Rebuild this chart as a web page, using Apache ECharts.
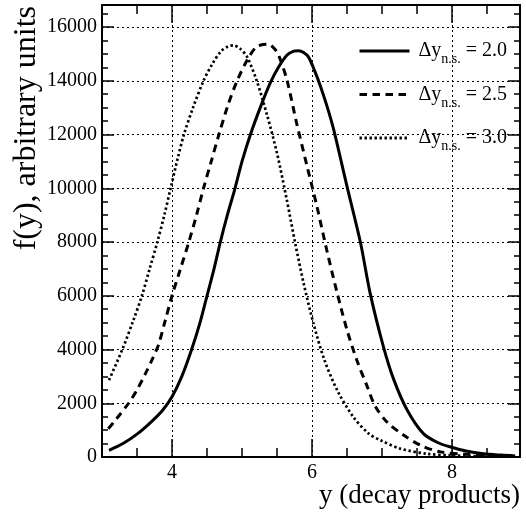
<!DOCTYPE html>
<html><head><meta charset="utf-8">
<script src="https://cdn.jsdelivr.net/npm/echarts@6/dist/echarts.min.js"></script>
<style>html,body{margin:0;padding:0;background:#fff}#c{width:526px;height:517px}</style>
</head><body><div id="c"></div>
<script>
// ---- data ----
const seriesNames = ['2.0', '2.5', '3.0'];
const x20 = [3.1,3.3,3.5,3.7,3.86,4.0,4.14,4.28,4.4,4.5,4.6,4.69,4.79,4.9,5.0,5.12,5.26,5.4,5.52,5.64,5.74,5.81,5.88,5.95,6.04,6.12,6.22,6.31,6.5,6.69,6.83,7.02,7.17,7.36,7.59,7.8,7.98,8.2,8.45,8.7,8.9];
const y20 = [250,500,850,1300,1720,2240,3000,4000,5000,6000,7000,8000,9000,10000,11000,12000,13000,13900,14500,14950,15100,15120,15050,14880,14350,13800,13000,12170,10060,8000,6090,4100,2860,1740,870,530,370,220,120,70,40];
const x25 = [3.09,3.2,3.38,3.5,3.62,3.72,3.81,3.9,4.0,4.12,4.24,4.35,4.45,4.56,4.67,4.8,4.93,5.08,5.2,5.3,5.38,5.46,5.52,5.64,5.78,5.93,6.07,6.21,6.36,6.5,6.64,6.79,6.9,7.07,7.31,7.55,7.83,8.2,8.5,8.9];
const y25 = [1050,1400,2000,2500,3100,3650,4200,5050,6000,7000,8000,9000,10000,11000,12000,13100,14000,14800,15250,15350,15360,15200,14970,14040,12420,10810,9320,7700,6090,4720,3600,2610,1900,1300,810,435,190,100,60,35];
const x30 = [3.1,3.29,3.45,3.57,3.68,3.79,3.89,3.98,4.08,4.17,4.3,4.45,4.57,4.7,4.8,4.88,4.97,5.07,5.21,5.36,5.5,5.64,5.76,5.88,6.02,6.17,6.36,6.59,6.81,6.98,7.26,7.64,8.0,8.4,8.9];
const y30 = [2860,4000,5100,6000,7000,8000,9000,10000,11100,12000,13000,14000,14600,15100,15280,15320,15200,14900,14000,12700,11300,9560,7950,6460,4970,3660,2480,1490,870,620,310,120,60,25,10];
const xMajor = [4, 6, 8];
const xMinor = [3.5, 4.5, 5, 5.5, 6.5, 7, 7.5, 8.5];
const yMajor = [0, 2000, 4000, 6000, 8000, 10000, 12000, 14000, 16000];
const yMinor = [500,1000,1500,2500,3000,3500,4500,5000,5500,6500,7000,7500,8500,9000,9500,10500,11000,11500,12500,13000,13500,14500,15000,15500,16500];
const xTitle = 'y (decay products)';
const yTitle = 'f(y), arbitrary units';

const FONT = 'Liberation Serif';
const zip = (a, b) => a.map((v, i) => [v, b[i]]);
const X_MIN = 3, X_MAX = 8.97, Y_MIN = 0, Y_MAX = 16820;

function xAx(pos, ticks, len, major) {
  return {
    type: 'value', gridIndex: 0, position: pos, min: X_MIN, max: X_MAX,
    axisLine: { show: major, onZero: false, lineStyle: { color: '#000', width: 2 } },
    axisTick: { show: true, inside: true, length: len, customValues: ticks, lineStyle: { color: '#000', width: 1.5 } },
    axisLabel: (major && pos === 'bottom') ? { show: true, customValues: ticks, formatter: v => String(v), color: '#000', fontFamily: FONT, fontSize: 20, margin: 6 } : { show: false },
    splitLine: { show: major && pos === 'bottom', lineStyle: { color: '#000', width: 1, type: [2, 3] } },
    minorTick: { show: false }
  };
}
function yAx(pos, ticks, len, major) {
  return {
    type: 'value', gridIndex: 0, position: pos, min: Y_MIN, max: Y_MAX,
    axisLine: { show: major, onZero: false, lineStyle: { color: '#000', width: 2 } },
    axisTick: { show: true, inside: true, length: len, customValues: ticks, lineStyle: { color: '#000', width: 1.5 } },
    axisLabel: (major && pos === 'left') ? { show: true, customValues: ticks, formatter: v => String(v), color: '#000', fontFamily: FONT, fontSize: 20, margin: 5 } : { show: false },
    splitLine: { show: major && pos === 'left', lineStyle: { color: '#000', width: 1, type: [2, 3] } },
    minorTick: { show: false }
  };
}

const legendRich = {
  a: { fontFamily: FONT, fontSize: 20, color: '#000', lineHeight: 31, verticalAlign: 'middle' },
  s: { fontFamily: FONT, fontSize: 14, color: '#000', lineHeight: 14, verticalAlign: 'bottom' }
};

const chart = echarts.init(document.getElementById('c'), null, { renderer: 'canvas' });
chart.setOption({
  backgroundColor: '#fff',
  animation: false,
  grid: { left: 102, top: 5, width: 418, height: 452, containLabel: false },
  xAxis: [xAx('bottom', xMajor, 18, true), xAx('bottom', xMinor, 9, false), xAx('top', xMajor, 18, true), xAx('top', xMinor, 9, false)],
  yAxis: [yAx('left', yMajor, 12, true), yAx('left', yMinor, 6, false), yAx('right', yMajor, 12, true), yAx('right', yMinor, 6, false)],
  legend: {
    orient: 'vertical', left: 353, top: 36, itemWidth: 50, itemHeight: 14, itemGap: 18,
    itemStyle: { opacity: 0, borderWidth: 0 },
    lineStyle: { width: 3 },
    textStyle: { fontFamily: FONT, fontSize: 20, color: '#000', padding: [0, 0, 0, 4], rich: legendRich },
    formatter: n => '{a|Δy}{s|n.s.}{a| = ' + n + '}',
    selectedMode: false
  },
  graphic: [
    { type: 'text', x: 520, y: 496, style: { text: xTitle, fontFamily: FONT, fontSize: 27, fill: '#000', textAlign: 'right', textVerticalAlign: 'middle' } },
    { type: 'text', x: 27, y: 6, rotation: Math.PI / 2, style: { text: yTitle, fontFamily: FONT, fontSize: 32, fill: '#000', textAlign: 'right', textVerticalAlign: 'middle' } }
  ],
  series: [
    { name: seriesNames[0], type: 'line', data: zip(x20, y20), showSymbol: false, symbol: 'none', smooth: 0.3, lineStyle: { color: '#000', width: 3, type: 'solid' }, itemStyle: { color: '#000' } },
    { name: seriesNames[1], type: 'line', data: zip(x25, y25), showSymbol: false, symbol: 'none', smooth: 0.3, lineStyle: { color: '#000', width: 3, type: [7.5, 5.5] }, itemStyle: { color: '#000' } },
    { name: seriesNames[2], type: 'line', data: zip(x30, y30), showSymbol: false, symbol: 'none', smooth: 0.3, lineStyle: { color: '#000', width: 2.7, type: [2.4, 2.6] }, itemStyle: { color: '#000' } }
  ]
});
</script></body></html>
